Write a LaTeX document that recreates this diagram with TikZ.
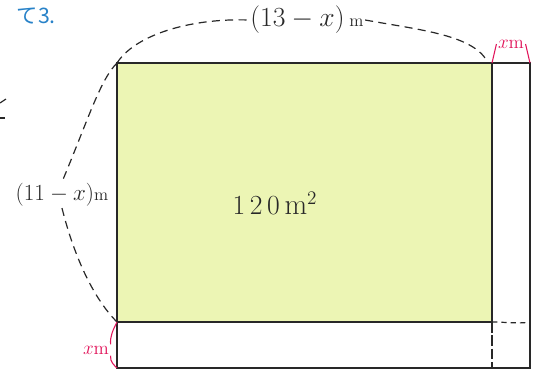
\documentclass[tikz,border=0pt]{standalone}
\usepackage{fontspec}
\newfontfamily\cjk{Noto Sans CJK JP}
\definecolor{leaf}{RGB}{236,245,180}
\definecolor{ink}{RGB}{40,40,40}
\definecolor{redink}{RGB}{225,20,90}
\definecolor{blueink}{RGB}{40,130,200}
\tikzset{
  edge/.style={draw=ink,line width=1.1pt},
  thin edge/.style={draw=ink,line width=0.8pt},
  brace/.style={draw=ink,line width=0.9pt,dash pattern=on 6pt off 4pt},
  redbrace/.style={draw=redink,line width=0.8pt},
  lab/.style={text=ink,font=\fontsize{19}{22}\selectfont,inner sep=1pt},
  biglab/.style={text=ink,font=\fontsize{22}{26}\selectfont,inner sep=1pt},
  redlab/.style={text=redink,font=\fontsize{14}{16}\selectfont,inner sep=1pt}
}
\newcommand{\unitm}{{\fontsize{13}{15}\selectfont m}}
\begin{document}
\begin{tikzpicture}[x=0.75pt,y=-0.75pt]
\useasboundingbox (0,0) rectangle (540,371);
% corners
\coordinate (tl) at (117,63);
\coordinate (tr) at (530,63);
\coordinate (br) at (530,368);
\coordinate (bl) at (117,368);
\coordinate (im) at (492,63);
\coordinate (ib) at (492,322);
\coordinate (il) at (117,322);
\coordinate (ir) at (530,322);
\coordinate (ibb) at (492,368);
% green area
\fill[leaf] (tl) rectangle (ib);
% lines
\draw[thin edge] (im) -- (ib);
\draw[thin edge] (il) -- (ib);
\draw[thin edge,dash pattern=on 8pt off 2pt] (ib) -- (ibb);
\draw[brace,dash pattern=on 4pt off 3pt] (ib) .. controls (505,322) and (520,324) .. (ir);
\draw[edge] (tl) rectangle (br);
% texts
\node[text=blueink,font=\cjk\fontsize{16}{18}\selectfont,anchor=west] (title) at (12,16) {て3.};
\node[biglab] (top) at (307,20) {$(13-x)$\,\unitm};
\node[lab] (left) at (62,195) {$(11-x)$\unitm};
\node[biglab] (area) at (275,203) {$1\,2\,0\,\mathrm{m}^2$};
\node[redlab] (rx) at (511,44) {$x$m};
\node[redlab] (bx) at (96,350) {$x$m};
% top brace
\draw[brace] (tl) .. controls (135,35) and (190,18) .. (top.west);
\draw[brace] (top.east) .. controls (420,30) and (475,35) .. (488,63);
% left brace
\draw[brace] (tl) .. controls (100,80) and (88,120) .. (left.north);
\draw[brace] (left.south) .. controls (75,260) and (95,300) .. (il);
% red braces
\draw[redbrace] (im) -- (rx.west);
\draw[redbrace] (rx.east) -- (tr);
\draw[redbrace] (il) .. controls (113,330) and (110,336) .. (bx.north east);
\draw[redbrace] (bx.south east) .. controls (110,362) and (114,365) .. (bl);
% left margin fragments
\draw[ink,line width=0.9pt] (0,103) -- (6,99);
\draw[ink,line width=0.9pt] (0,118) -- (5,118);
\end{tikzpicture}
\end{document}
